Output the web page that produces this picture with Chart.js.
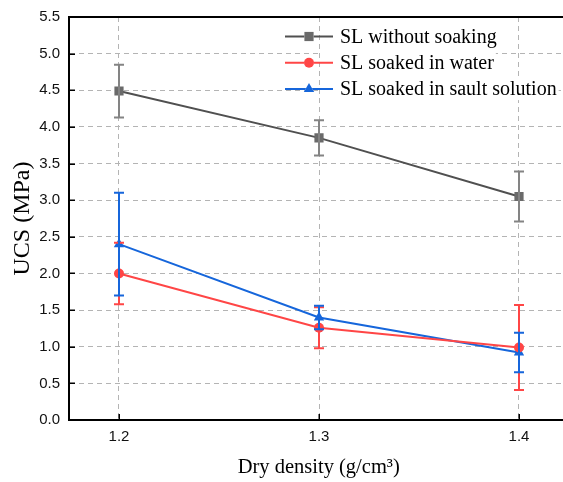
<!DOCTYPE html>
<html><head><meta charset="utf-8">
<script src="https://cdn.jsdelivr.net/npm/chart.js@4.4.1/dist/chart.umd.min.js"></script>
<style>
html,body{margin:0;padding:0;background:#fff;overflow:hidden;width:563px;height:482px;}
#wrap{position:relative;width:575px;height:482px;}
</style></head><body>
<div id="wrap"><canvas id="c" width="575" height="482"></canvas></div>
<script>
// ---- data ----
const dryDensity = [1.2, 1.3, 1.4];
const xTickValues = [1.2, 1.3, 1.4];
const yTickValues = [0, 0.5, 1.0, 1.5, 2.0, 2.5, 3.0, 3.5, 4.0, 4.5, 5.0, 5.5];
const seriesLabels = ['SL without soaking', 'SL soaked in water', 'SL soaked in sault solution'];
const ucsWithoutSoaking = [4.49, 3.85, 3.05];
const errWithoutSoaking = [0.36, 0.24, 0.34];
const ucsSoakedWater = [2.00, 1.26, 0.99];
const errSoakedWater = [0.42, 0.28, 0.58];
const ucsSoakedSalt = [2.40, 1.40, 0.92];
const errSoakedSalt = [0.70, 0.16, 0.27];

const toPoints = (ys) => dryDensity.map((x, i) => ({x: x, y: ys[i]}));

const SERIF = "'Liberation Serif', 'Times New Roman', serif";
const SANS = "'Liberation Sans', Arial, sans-serif";

const errorBarPlugin = {
  id: 'errorBars',
  afterDatasetsDraw(chart) {
    const ctx = chart.ctx;
    const xs = chart.scales.x, ys = chart.scales.y;
    [0, 1, 2].forEach(di => {
      const ds = chart.data.datasets[di];
      ctx.save();
      ctx.strokeStyle = ds.errorColor;
      ctx.lineWidth = 2;
      ds.data.forEach((p, i) => {
        const e = ds.errorBars[i];
        const px = xs.getPixelForValue(p.x);
        const top = ys.getPixelForValue(p.y + e);
        const bot = ys.getPixelForValue(p.y - e);
        ctx.beginPath();
        ctx.moveTo(px, top); ctx.lineTo(px, bot);
        ctx.moveTo(px - 5, top); ctx.lineTo(px + 5, top);
        ctx.moveTo(px - 5, bot); ctx.lineTo(px + 5, bot);
        ctx.stroke();
      });
      ctx.restore();
    });
  }
};

const frameTicksPlugin = {
  id: 'frameTicks',
  afterDraw(chart) {
    const ctx = chart.ctx;
    const a = chart.chartArea;
    const xs = chart.scales.x, ys = chart.scales.y;
    ctx.save();
    ctx.strokeStyle = '#000';
    ctx.lineWidth = 2;
    ctx.beginPath();
    ctx.moveTo(a.left - 1, a.top); ctx.lineTo(a.right, a.top);
    ctx.stroke();
    ctx.lineWidth = 1.5;
    ys.ticks.forEach(t => {
      const py = Math.round(ys.getPixelForValue(t.value)) + 0.25;
      ctx.beginPath(); ctx.moveTo(a.left, py); ctx.lineTo(a.left + 6, py); ctx.stroke();
    });
    xs.ticks.forEach(t => {
      const px = Math.round(xs.getPixelForValue(t.value)) + 0.25;
      ctx.beginPath(); ctx.moveTo(px, a.bottom); ctx.lineTo(px, a.bottom - 6); ctx.stroke();
    });
    ctx.restore();
  }
};

const legendPlugin = {
  id: 'lineLegend',
  afterDraw(chart, args, opts) {
    const ctx = chart.ctx;
    ctx.save();
    ctx.font = opts.fontSize + 'px ' + SERIF;
    ctx.textBaseline = 'middle';
    chart.data.datasets.forEach((ds, i) => {
      const cy = opts.top + i * opts.rowGap;
      const tw = ctx.measureText(ds.label).width;
      ctx.fillStyle = '#fff';
      ctx.fillRect(opts.boxLeft, cy - 11, opts.textLeft - opts.boxLeft + tw + 2, 22);
      ctx.strokeStyle = ds.borderColor;
      ctx.lineWidth = 2;
      ctx.beginPath();
      ctx.moveTo(opts.lineLeft, cy); ctx.lineTo(opts.lineRight, cy); ctx.stroke();
      const mx = (opts.lineLeft + opts.lineRight) / 2;
      Chart.helpers.drawPoint(ctx, {
        pointStyle: ds.pointStyle, radius: ds.pointRadius, borderWidth: 0
      }, mx, cy);
      ctx.fillStyle = ds.pointBackgroundColor;
      ctx.fill();
      ctx.fillStyle = '#000';
      ctx.fillText(ds.label, opts.textLeft, cy + 1);
    });
    ctx.restore();
  }
};

new Chart(document.getElementById('c'), {
  type: 'line',
  data: {
    datasets: [
      {
        label: seriesLabels[0], data: toPoints(ucsWithoutSoaking), errorBars: errWithoutSoaking,
        borderColor: '#505050', borderWidth: 2, pointStyle: 'rect', pointRadius: 6.5,
        pointBackgroundColor: '#6a6a6a', pointBorderWidth: 0, errorColor: '#848484', tension: 0
      },
      {
        label: seriesLabels[1], data: toPoints(ucsSoakedWater), errorBars: errSoakedWater,
        borderColor: '#ff4646', borderWidth: 2, pointStyle: 'circle', pointRadius: 5,
        pointBackgroundColor: '#ff4646', pointBorderWidth: 0, errorColor: '#ff4646', tension: 0
      },
      {
        label: seriesLabels[2], data: toPoints(ucsSoakedSalt), errorBars: errSoakedSalt,
        borderColor: '#1666db', borderWidth: 2, pointStyle: 'triangle', pointRadius: 6,
        pointBackgroundColor: '#1666db', pointBorderWidth: 0, errorColor: '#1666db', tension: 0
      }
    ]
  },
  options: {
    responsive: false,
    animation: false,
    layout: {padding: {left: 0, top: 17, right: 0, bottom: 0}},
    plugins: {
      legend: {display: false},
      tooltip: {enabled: false},
      lineLegend: {top: 36.5, rowGap: 26.3, lineLeft: 285, lineRight: 333, textLeft: 340, boxLeft: 320, fontSize: 20}
    },
    scales: {
      x: {
        type: 'linear', min: 1.175, max: 1.42475,
        afterBuildTicks: (s) => { s.ticks = xTickValues.map(v => ({value: v})); },
        afterFit: (s) => { s.height = 62; s.paddingLeft = 0; s.paddingRight = 0; },
        ticks: {callback: (v) => Number(v).toFixed(1), font: {family: SANS, size: 15}, color: '#111', padding: 8, maxRotation: 0},
        grid: {color: '#b4b4b4', lineWidth: 1, drawTicks: false},
        border: {display: true, color: '#000', width: 2, dash: [5, 4]},
        title: {display: true, text: 'Dry density (g/cm³)', font: {family: SERIF, size: 20.5}, color: '#000', padding: {top: 0, bottom: 2}}
      },
      y: {
        type: 'linear', min: 0, max: 5.5,
        afterBuildTicks: (s) => { s.ticks = yTickValues.map(v => ({value: v})); },
        afterFit: (s) => { s.width = 69; s.paddingTop = 0; s.paddingBottom = 0; },
        ticks: {callback: (v) => Number(v).toFixed(1), font: {family: SANS, size: 15}, color: '#111', padding: 9},
        grid: {color: '#b4b4b4', lineWidth: 1, drawTicks: false},
        border: {display: true, color: '#000', width: 2, dash: [5, 4]},
        title: {display: true, text: 'UCS (MPa)', font: {family: SERIF, size: 24}, color: '#000', padding: {top: 8, bottom: 0}}
      }
    }
  },
  plugins: [errorBarPlugin, frameTicksPlugin, legendPlugin]
});
</script>
</body></html>
